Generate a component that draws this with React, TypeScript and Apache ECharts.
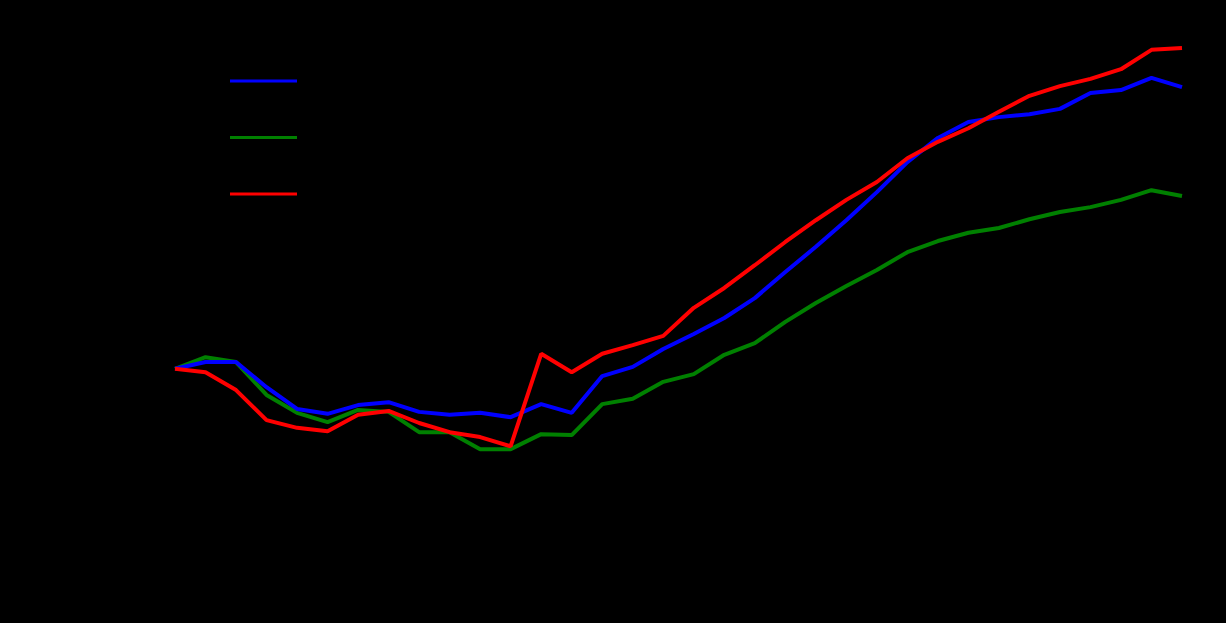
import React, { useEffect, useRef } from "react";
import * as echarts from "echarts";

const years: number[] = [];
for (let y = 1992; y <= 2008; y++) years.push(y);
const categories: string[] = years.flatMap((y) => [`I.${y}`, `III.${y}`]);

const yTicks = ["700", "800", "900", "1 000", "1 100", "1 200", "1 300", "1 400", "1 500", "1 600", "1 700"];

const seriesNames = ["Alkoholické nápoje", "Uhlí", "Hovězí"];

const blueValues = [
  1000, 1014, 1014, 962, 917, 907, 925, 931, 911, 905, 909, 900, 927, 909, 985, 1004, 1041,
  1072, 1105, 1146, 1200, 1252, 1307, 1365, 1427, 1477, 1510, 1520, 1526, 1537, 1570, 1576, 1601, 1582,
];
const greenValues = [
  1000, 1024, 1014, 946, 909, 890, 915, 911, 869, 869, 834, 834, 865, 863, 927, 938, 973,
  989, 1029, 1053, 1097, 1136, 1171, 1204, 1241, 1264, 1281, 1291, 1309, 1324, 1334, 1349, 1369, 1357,
];
const redValues = [
  1000, 993, 956, 894, 878, 871, 905, 913, 888, 869, 859, 840, 1031, 993, 1031, 1049, 1068,
  1126, 1167, 1214, 1262, 1307, 1349, 1386, 1435, 1469, 1497, 1531, 1564, 1584, 1599, 1619, 1659, 1663,
];

const colors = ["#0000ff", "#008000", "#ff0000"];

export default function App() {
  const ref = useRef<HTMLDivElement>(null);
  useEffect(() => {
    if (!ref.current) return;
    const chart = echarts.init(ref.current, undefined, { renderer: "svg" });
    const font = "Liberation Sans, Arial, sans-serif";
    const values = [blueValues, greenValues, redValues];
    chart.setOption({
      animation: false,
      backgroundColor: "#000000",
      textStyle: { fontFamily: font },
      grid: {
        left: 175,
        right: 44,
        top: 30,
        bottom: 109,
        containLabel: false,
        outerBoundsMode: "none",
      },
      legend: {
        orient: "vertical",
        left: 225,
        top: 66,
        padding: 5,
        itemWidth: 67,
        itemHeight: 3,
        itemGap: 36.5,
        icon: "rect",
        textStyle: { color: "#000000", fontSize: 20, fontFamily: font, padding: [0, 0, 0, 6] },
        data: seriesNames,
      },
      xAxis: {
        type: "category",
        data: categories,
        boundaryGap: false,
        name: "Časové období",
        nameLocation: "middle",
        nameGap: 80,
        nameTextStyle: { color: "#000000", fontSize: 20 },
        axisLine: { lineStyle: { color: "#000000" } },
        axisTick: { show: false },
        axisLabel: { interval: 2, color: "#000000", fontSize: 20, margin: 32 },
        splitLine: { show: false },
      },
      yAxis: {
        type: "value",
        min: 700,
        max: 1700,
        interval: 100,
        name: "Index cen\n(I.1992 = 1 000)",
        nameLocation: "middle",
        nameGap: 125,
        nameRotate: 90,
        nameTextStyle: { color: "#000000", fontSize: 20, lineHeight: 26 },
        axisLine: { show: false },
        axisTick: { show: false },
        axisLabel: {
          color: "#000000",
          fontSize: 20,
          margin: 40,
          formatter: (v: number) => yTicks[Math.round((v - 700) / 100)] ?? String(v),
        },
        splitLine: { show: false },
      },
      series: seriesNames.map((name, i) => ({
        name,
        type: "line",
        data: values[i],
        showSymbol: false,
        symbol: "none",
        lineStyle: { color: colors[i], width: 4 },
        itemStyle: { color: colors[i] },
        z: i === 0 ? 3 : i === 2 ? 4 : 2,
      })),
    });
    return () => chart.dispose();
  }, []);
  return (
    <div
      ref={ref}
      style={{ position: "fixed", left: 0, top: 0, width: 1226, height: 623 }}
    />
  );
}
